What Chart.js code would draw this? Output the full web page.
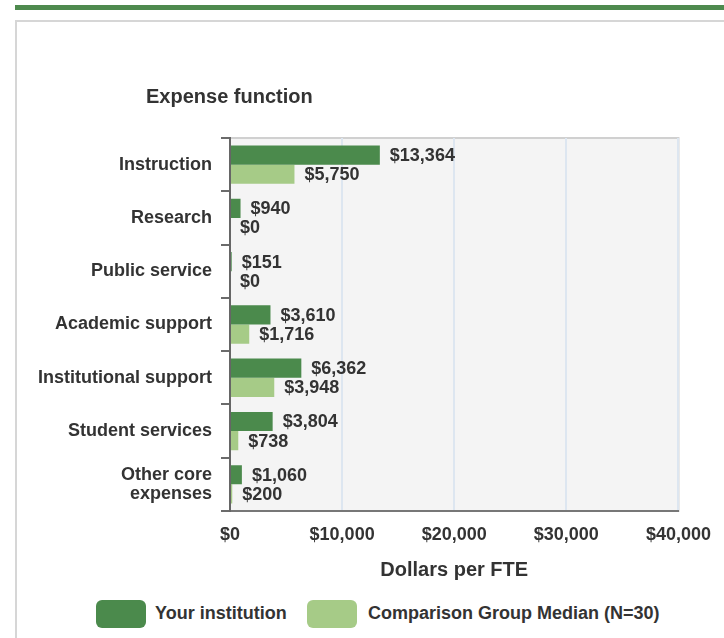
<!DOCTYPE html>
<html>
<head>
<meta charset="utf-8">
<script src="https://cdn.jsdelivr.net/npm/chart.js@4.4.1/dist/chart.umd.min.js"></script>
<style>
  body { margin: 0; background: #fff; font-family: "Liberation Sans", Arial, sans-serif; }
  #page { position: relative; width: 724px; height: 638px; overflow: hidden; }
  #topbar { position: absolute; left: 15px; top: 5px; width: 709px; height: 5px; background: #4e8a4e; }
  #frame { position: absolute; left: 15px; top: 20px; width: 740px; height: 660px; border: 2px solid #d6d6d6; }
  #wrap { position: absolute; left: 0; top: 0; width: 724px; height: 590px; }
  .swatch { position: absolute; top: 600px; width: 50px; height: 28px; border-radius: 6px; }
  .ltext { position: absolute; top: 603px; font-weight: bold; font-size: 18px; color: #333; line-height: 20px; }
</style>
</head>
<body>
<div id="page">
  <div id="topbar"></div>
  <div id="frame"></div>
  <div id="wrap"><canvas id="chart"></canvas></div>
  <div class="swatch" style="left:96px; background:#4b8a4c;"></div>
  <div class="ltext" style="left:155px;">Your institution</div>
  <div class="swatch" style="left:307px; background:#a6cb87;"></div>
  <div class="ltext" style="left:368px;">Comparison Group Median (N=30)</div>
</div>
<script>
const categories = ["Instruction", "Research", "Public service", "Academic support",
  "Institutional support", "Student services", ["Other core", "expenses"]];
const yourInstitution = [13364, 940, 151, 3610, 6362, 3804, 1060];
const comparisonMedian = [5750, 0, 0, 1716, 3948, 738, 200];
const xTicks = [0, 10000, 20000, 30000, 40000];

const fmt = v => "$" + v.toLocaleString("en-US");

Chart.defaults.font.family = '"Liberation Sans", Arial, sans-serif';
Chart.defaults.color = "#333";

// plot background + light frame
const plotBg = {
  id: "plotBg",
  beforeDraw(chart) {
    const a = chart.chartArea, ctx = chart.ctx;
    ctx.save();
    ctx.fillStyle = "#f4f4f4";
    ctx.fillRect(a.left, a.top, a.right - a.left, a.bottom - a.top);
    ctx.strokeStyle = "#d0d0d0";
    ctx.lineWidth = 2;
    ctx.strokeRect(a.left, a.top, a.right - a.left, a.bottom - a.top);
    ctx.restore();
  }
};

// value labels at bar ends + heading above the axis
const barLabels = {
  id: "barLabels",
  afterDatasetsDraw(chart) {
    const ctx = chart.ctx;
    ctx.save();
    ctx.font = 'bold 18px "Liberation Sans", Arial';
    ctx.fillStyle = "#333";
    ctx.textBaseline = "middle";
    chart.data.datasets.forEach((ds, i) => {
      chart.getDatasetMeta(i).data.forEach((bar, j) => {
        ctx.fillText(fmt(ds.data[j]), bar.x + 10, bar.y + 1);
      });
    });
    ctx.font = 'bold 20px "Liberation Sans", Arial';
    ctx.fillText("Expense function", chart.chartArea.left - 84, chart.chartArea.top - 41);
    ctx.restore();
  }
};

new Chart(document.getElementById("chart").getContext("2d"), {
  type: "bar",
  data: {
    labels: categories,
    datasets: [
      { label: "Your institution", data: yourInstitution, backgroundColor: "#4b8a4c",
        categoryPercentage: 0.72, barPercentage: 1 },
      { label: "Comparison Group Median (N=30)", data: comparisonMedian, backgroundColor: "#a6cb87",
        categoryPercentage: 0.72, barPercentage: 1 }
    ]
  },
  options: {
    indexAxis: "y",
    responsive: true,
    maintainAspectRatio: false,
    animation: false,
    layout: { padding: { top: 138, right: 45, left: 0, bottom: 0 } },
    plugins: {
      legend: { display: false },
      tooltip: { enabled: false }
    },
    scales: {
      x: {
        min: 0,
        max: 40000,
        afterBuildTicks: scale => { scale.ticks = xTicks.map(v => ({ value: v })); },
        afterFit: scale => { scale.height = 79; },
        ticks: {
          callback: v => fmt(v),
          font: { size: 18, weight: "bold" },
          color: "#333",
          padding: 13,
          maxRotation: 0
        },
        grid: { color: "#dde6f0", lineWidth: 2, drawTicks: false },
        border: { color: "#777", width: 2 },
        title: {
          display: true,
          text: "Dollars per FTE",
          font: { size: 20, weight: "bold" },
          color: "#333",
          padding: { top: 0, bottom: 8 }
        }
      },
      y: {
        afterFit: scale => { scale.width = 230; },
        ticks: {
          font: { size: 18, weight: "bold", lineHeight: 1.06 },
          color: "#333",
          padding: 9
        },
        grid: { drawOnChartArea: false, drawTicks: true, tickLength: 9, color: "#6b6b6b", lineWidth: 2 },
        border: { color: "#666", width: 2 }
      }
    }
  },
  plugins: [plotBg, barLabels]
});
</script>
</body>
</html>
